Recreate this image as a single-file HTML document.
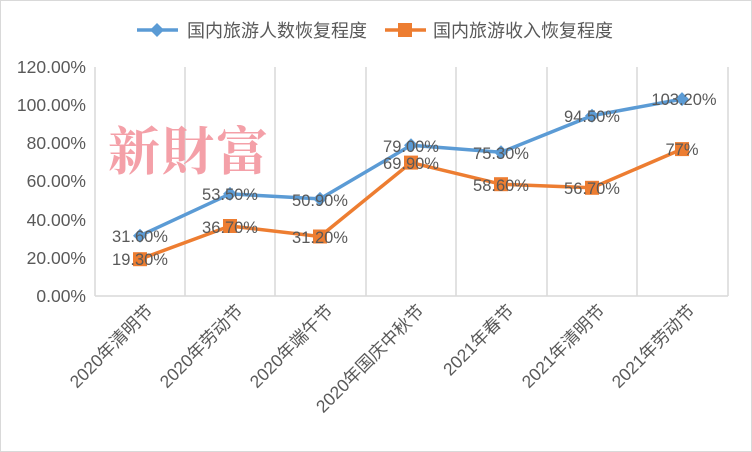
<!DOCTYPE html>
<html><head><meta charset="utf-8"><style>body{margin:0;background:#fff}svg{display:block}</style></head><body>
<svg width="752" height="452" viewBox="0 0 752 452" xmlns="http://www.w3.org/2000/svg" font-family="'Liberation Sans','Noto Sans CJK SC',sans-serif">
<rect x="0.5" y="0.5" width="751" height="451" fill="#fff" stroke="#d9d9d9"/>
<g stroke="#d9d9d9" stroke-width="1.5">
<line x1="95" y1="67" x2="95" y2="296"/><line x1="185" y1="67" x2="185" y2="296"/><line x1="275" y1="67" x2="275" y2="296"/><line x1="366" y1="67" x2="366" y2="296"/><line x1="456" y1="67" x2="456" y2="296"/><line x1="547" y1="67" x2="547" y2="296"/><line x1="637" y1="67" x2="637" y2="296"/><line x1="728" y1="67" x2="728" y2="296"/>
<line x1="95" y1="296" x2="728" y2="296"/>
</g>
<g font-size="17.5" fill="#595959" text-anchor="end">
<text x="86" y="73">120.00%</text><text x="86" y="111">100.00%</text><text x="86" y="149">80.00%</text><text x="86" y="187">60.00%</text><text x="86" y="226">40.00%</text><text x="86" y="264">20.00%</text><text x="86" y="302">0.00%</text>
</g>
<text x="108" y="170" font-size="52" font-weight="bold" fill="#f4a0a8" font-family="'Noto Serif CJK SC',serif" letter-spacing="2">新財富</text>
<g font-size="17.5" fill="#595959" text-anchor="end">
<text transform="translate(154,312) rotate(-45)">2020年清明节</text>
<text transform="translate(244,312) rotate(-45)">2020年劳动节</text>
<text transform="translate(334,312) rotate(-45)">2020年端午节</text>
<text transform="translate(425,312) rotate(-45)">2020年国庆中秋节</text>
<text transform="translate(515,312) rotate(-45)">2021年春节</text>
<text transform="translate(606,312) rotate(-45)">2021年清明节</text>
<text transform="translate(696,312) rotate(-45)">2021年劳动节</text>
</g>
<polyline fill="none" stroke="#5b9bd5" stroke-width="3.5" stroke-linejoin="round" points="140,235.7 230,193.9 320,198.9 411,145.3 501,152.3 592,115.7 682,99.1"/>
<polyline fill="none" stroke="#ed7d31" stroke-width="3.5" stroke-linejoin="round" points="140,259.2 230,226 320,236.5 411,162.6 501,184.2 592,187.8 682,149.1"/>
<g fill="#5b9bd5">
<path d="M140,228.7l7,7l-7,7l-7,-7z"/><path d="M230,186.9l7,7l-7,7l-7,-7z"/><path d="M320,191.9l7,7l-7,7l-7,-7z"/><path d="M411,138.3l7,7l-7,7l-7,-7z"/><path d="M501,145.3l7,7l-7,7l-7,-7z"/><path d="M592,108.7l7,7l-7,7l-7,-7z"/><path d="M682,92.1l7,7l-7,7l-7,-7z"/>
</g>
<g fill="#ed7d31">
<rect x="133" y="252.2" width="14" height="14"/><rect x="223" y="219" width="14" height="14"/><rect x="313" y="229.5" width="14" height="14"/><rect x="404" y="155.6" width="14" height="14"/><rect x="494" y="177.2" width="14" height="14"/><rect x="585" y="180.8" width="14" height="14"/><rect x="675" y="142.1" width="14" height="14"/>
</g>
<g font-size="16.5" fill="#595959" text-anchor="middle">
<text x="140" y="242">31.60%</text><text x="230" y="200">53.50%</text><text x="320" y="206">50.90%</text><text x="411" y="152">79.00%</text><text x="501" y="159">75.30%</text><text x="592" y="122">94.50%</text><text x="684" y="105">103.20%</text>
<text x="140" y="265">19.30%</text><text x="230" y="233">36.70%</text><text x="320" y="243">31.20%</text><text x="411" y="169">69.90%</text><text x="501" y="191">58.60%</text><text x="592" y="194">56.70%</text><text x="682" y="155">77%</text>
</g>
<line x1="137" y1="30" x2="178" y2="30" stroke="#5b9bd5" stroke-width="3.5"/>
<path d="M157,23l7,7l-7,7l-7,-7z" fill="#5b9bd5"/>
<text x="187" y="37" font-size="18" fill="#595959">国内旅游人数恢复程度</text>
<line x1="385" y1="30" x2="426" y2="30" stroke="#ed7d31" stroke-width="3.5"/>
<rect x="398" y="23" width="14" height="14" fill="#ed7d31"/>
<text x="433" y="37" font-size="18" fill="#595959">国内旅游收入恢复程度</text>
</svg>
</body></html>
